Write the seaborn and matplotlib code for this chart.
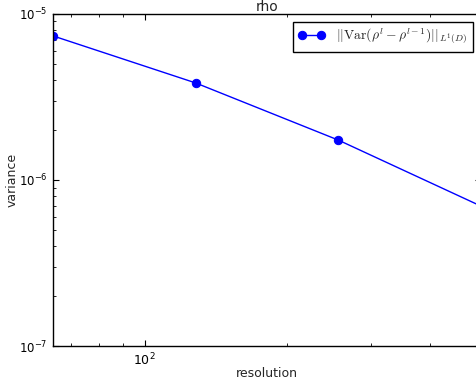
import numpy as np
import pandas as pd
import seaborn as sns
import matplotlib
matplotlib.use("Agg")
import matplotlib.pyplot as plt
from matplotlib.ticker import NullFormatter
from matplotlib.font_manager import FontProperties

resolution = [64, 128, 256, 512]
variance = [7.37e-6, 3.84e-6, 1.74e-6, 6.97e-7]
label = r'$||\mathrm{Var}(\rho^l - \rho^{l-1})||_{L^1(D)}$'

sns.set_style("ticks")
plt.rcParams['font.family'] = ['DejaVu Sans']
plt.rcParams['font.size'] = 9
plt.rcParams['mathtext.fontset'] = 'dejavusans'
plt.rcParams['axes.unicode_minus'] = False

df = pd.DataFrame({'resolution': resolution, 'variance': variance})

fig = plt.figure(figsize=(4.77, 3.85), dpi=100)
ax = fig.add_axes([0.111, 0.101, 0.897, 0.863])
sns.lineplot(data=df, x='resolution', y='variance', marker='o', color='#0000ff',
             linewidth=1, markersize=6, markeredgecolor='#0000ff', label=label, ax=ax)
ax.set_xscale('log')
ax.set_yscale('log')
ax.set_xlim(64, 512)
ax.set_ylim(1e-7, 1e-5)
ax.xaxis.set_minor_formatter(NullFormatter())
ax.yaxis.set_minor_formatter(NullFormatter())
ax.set_title('rho', fontsize=10, pad=2)
ax.set_xlabel('resolution')
ax.set_ylabel('variance')
ax.yaxis.set_label_coords(-0.08, 0.5)
ax.xaxis.set_label_coords(0.5, -0.063)
for s in ax.spines.values():
    s.set_linewidth(1)
    s.set_color('black')
ax.tick_params(which='both', direction='in', top=True, right=True, colors='black', pad=4)
ax.tick_params(which='major', length=4.5)
ax.tick_params(which='minor', length=2.5)
ax.tick_params(axis='y', labelsize=8.5)
leg = ax.legend(loc='upper right', numpoints=2, fancybox=False, framealpha=1,
                edgecolor='black', borderaxespad=0.6,
                prop=FontProperties(size=9.8, math_fontfamily='cm'))
leg.get_frame().set_linewidth(1)

fig.savefig('out.png', dpi=100)
